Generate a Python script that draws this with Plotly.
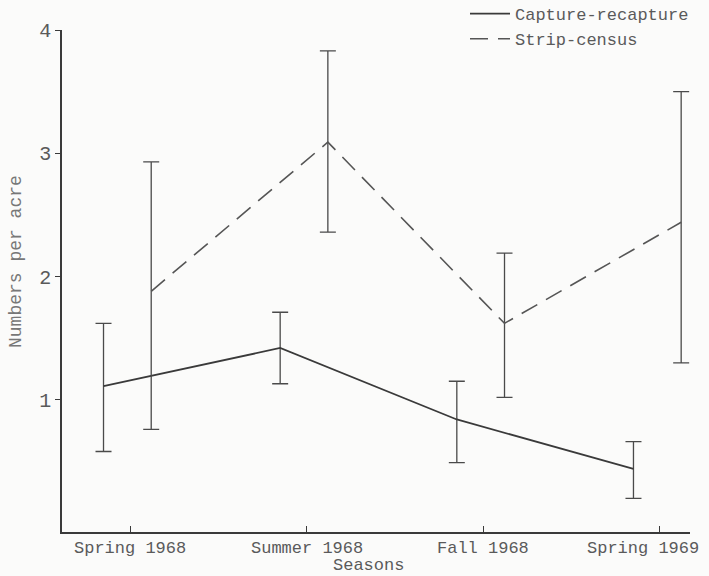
import plotly.graph_objects as go

# ---- data ----
seasons = ["Spring 1968", "Summer 1968", "Fall 1968", "Spring 1969"]

capture_mean = [1.11, 1.42, 0.84, 0.44]
capture_upper = [1.62, 1.71, 1.15, 0.66]
capture_lower = [0.58, 1.13, 0.49, 0.20]

strip_mean = [1.88, 3.09, 1.62, 2.44]
strip_upper = [2.93, 3.83, 2.19, 3.50]
strip_lower = [0.76, 2.36, 1.02, 1.30]

y_ticks = [1, 2, 3, 4]

# ---- styling ----
FONT = "Liberation Mono, Courier New, monospace"
TEXT = "#5a5a5a"
INK = "#3a3a3a"
BG = "#fbfbfa"

W, H = 709, 576
ML, MR, MT, MB = 62, 19, 2, 44
PLOT_TOP_PX = 30  # where the y axis ends
plot_h = H - MT - MB
y_dom_top = (H - MB - PLOT_TOP_PX) / plot_h

idx = list(range(len(seasons)))
cap_x = [i - 0.15 for i in idx]
strip_x = [i + 0.12 for i in idx]


def err(mean, upper, lower):
    return dict(
        type="data",
        symmetric=False,
        array=[u - m for u, m in zip(upper, mean)],
        arrayminus=[m - l for m, l in zip(mean, lower)],
        color="#4a4a4a",
        thickness=1.3,
        width=8,
    )


fig = go.Figure()
fig.add_trace(go.Scatter(
    x=cap_x, y=capture_mean, mode="lines", name="Capture-recapture",
    line=dict(color=INK, width=1.8),
    error_y=err(capture_mean, capture_upper, capture_lower),
))
fig.add_trace(go.Scatter(
    x=strip_x, y=strip_mean, mode="lines", name="Strip-census",
    line=dict(color="#555555", width=1.6, dash="18px,10px"),
    error_y=err(strip_mean, strip_upper, strip_lower),
))

annotations = []
for i, s in enumerate(seasons):
    last = i == len(seasons) - 1
    annotations.append(dict(
        x=i, y=0, xref="x", yref="paper", yanchor="top",
        xanchor="right" if last else "center",
        xshift=41 if last else 0, yshift=-5,
        text=s, showarrow=False,
        font=dict(family=FONT, size=17, color=TEXT),
    ))
# x axis title
annotations.append(dict(
    x=(368 - ML) / (W - ML - MR), y=0, xref="paper", yref="paper",
    xanchor="center", yanchor="top", yshift=-22,
    text="Seasons", showarrow=False,
    font=dict(family=FONT, size=17, color=TEXT),
))
# y axis title
annotations.append(dict(
    x=(16 - ML) / (W - ML - MR), y=(H - MB - 262) / plot_h,
    xref="paper", yref="paper", xanchor="center", yanchor="middle",
    text="Numbers per acre", textangle=-90, showarrow=False,
    font=dict(family=FONT, size=18, color="#777777"),
))

fig.update_layout(
    width=W, height=H,
    margin=dict(l=ML, r=MR, t=MT, b=MB, autoexpand=False),
    paper_bgcolor=BG, plot_bgcolor=BG,
    font=dict(family=FONT, color=TEXT),
    showlegend=True,
    legend=dict(
        x=(465 - ML) / (W - ML - MR), y=1.011, xanchor="left", yanchor="top",
        bgcolor="rgba(0,0,0,0)",
        font=dict(family=FONT, size=17, color=TEXT),
        tracegroupgap=0, itemwidth=40,
    ),
    annotations=annotations,
)

fig.update_xaxes(
    range=[-0.385, 3.17],
    tickvals=idx, ticktext=seasons, showticklabels=False,
    ticks="inside", ticklen=6, tickcolor=INK,
    showline=True, linecolor=INK, linewidth=1.5,
    showgrid=False, zeroline=False,
)
fig.update_yaxes(
    domain=[0, y_dom_top],
    range=[-0.073, 4.0],
    tickvals=y_ticks, ticktext=[str(v) for v in y_ticks],
    ticks="outside", ticklen=5, tickcolor=INK,
    tickfont=dict(family=FONT, size=20, color=TEXT),
    showline=True, linecolor=INK, linewidth=1.5,
    showgrid=False, zeroline=False,
)

fig.write_html("out.html")
